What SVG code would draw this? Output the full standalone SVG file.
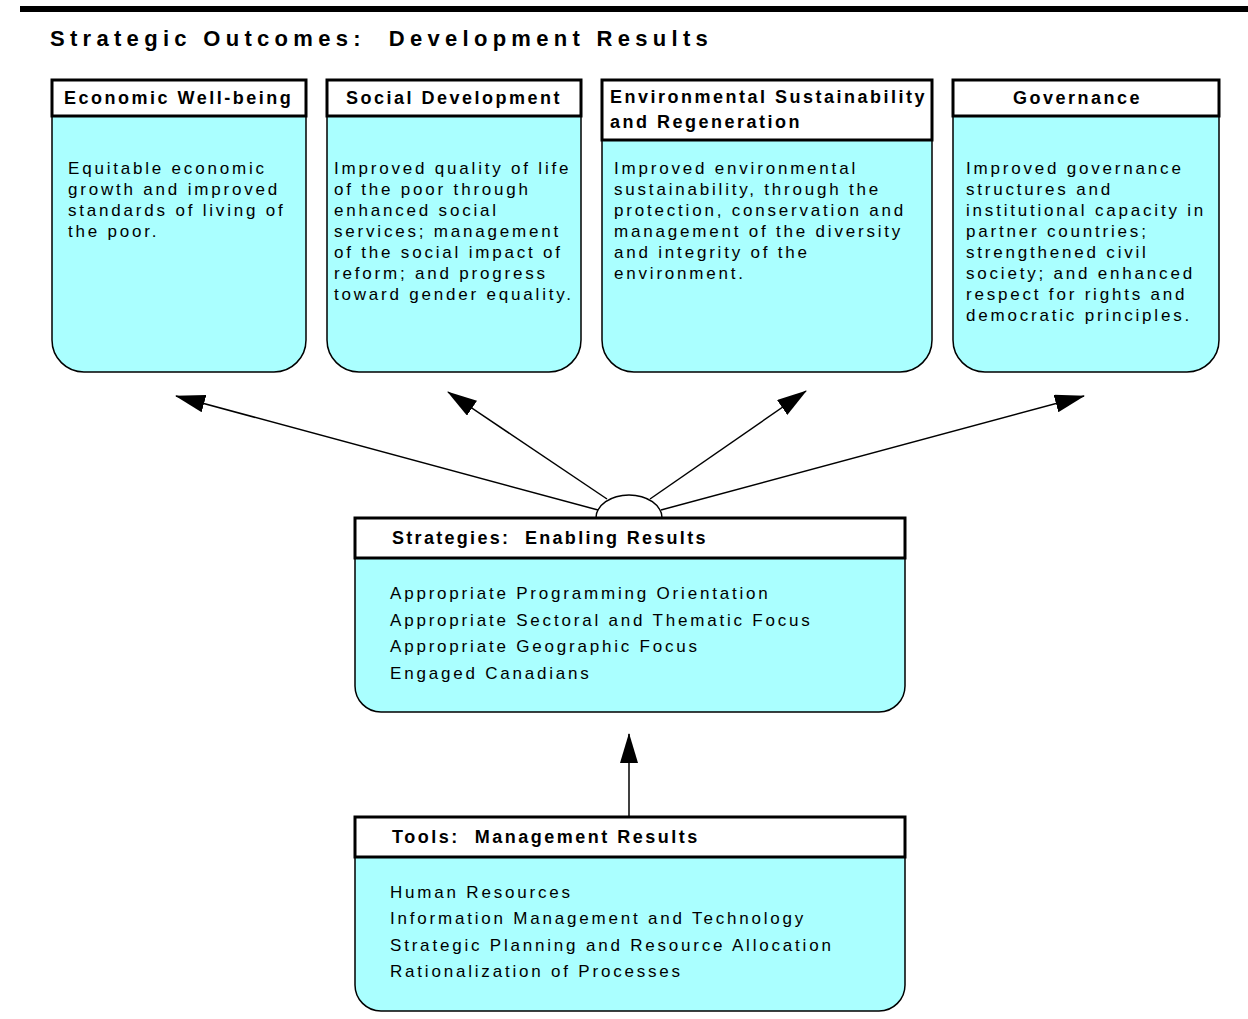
<svg xmlns="http://www.w3.org/2000/svg" width="1248" height="1019" viewBox="0 0 1248 1019">
<style>
text{white-space:pre}
.hdr{fill:#ffffff;stroke:#000;stroke-width:3}
.body{fill:#aaffff;stroke:#000;stroke-width:1.5}
.ht{font-family:"Liberation Sans",Arial,sans-serif;font-weight:bold;font-size:18px;letter-spacing:2.5px;fill:#000}
.bt{font-family:"Liberation Sans",Arial,sans-serif;font-size:17px;letter-spacing:2.8px;fill:#000}
.title{font-family:"Liberation Sans",Arial,sans-serif;font-weight:bold;font-size:22px;letter-spacing:5.3px;fill:#000}
.conn{stroke:#000;stroke-width:1.5;fill:none}
</style>
<defs>
<marker id="arr" viewBox="0 0 30 18" refX="29" refY="9" markerWidth="30" markerHeight="18" markerUnits="userSpaceOnUse" orient="auto">
<path d="M0,0 L30,9 L0,18 z" fill="#000"/>
</marker>
</defs>
<rect x="20" y="6" width="1228" height="6" fill="#000"/>
<text class="title" x="50" y="46" xml:space="preserve">Strategic Outcomes:  Development Results</text>

<g id="economic">
<path class="body" d="M52,116 V340 A32,32 0 0 0 84,372 H274 A32,32 0 0 0 306,340 V116 Z"/>
<rect class="hdr" x="52" y="80" width="254" height="36"/>
<text class="ht" x="64" y="104">Economic Well-being</text>
<text class="bt" x="68" y="174">Equitable economic</text>
<text class="bt" x="68" y="195">growth and improved</text>
<text class="bt" x="68" y="216">standards of living of</text>
<text class="bt" x="68" y="237">the poor.</text>
</g>

<g id="social">
<path class="body" d="M327,116 V340 A32,32 0 0 0 359,372 H549 A32,32 0 0 0 581,340 V116 Z"/>
<rect class="hdr" x="327" y="80" width="254" height="36"/>
<text class="ht" x="346" y="104">Social Development</text>
<text class="bt" x="334" y="174">Improved quality of life</text>
<text class="bt" x="334" y="195">of the poor through</text>
<text class="bt" x="334" y="216">enhanced social</text>
<text class="bt" x="334" y="237">services; management</text>
<text class="bt" x="334" y="258">of the social impact of</text>
<text class="bt" x="334" y="279">reform; and progress</text>
<text class="bt" x="334" y="300">toward gender equality.</text>
</g>

<g id="environment">
<path class="body" d="M602,140 V340 A32,32 0 0 0 634,372 H900 A32,32 0 0 0 932,340 V140 Z"/>
<rect class="hdr" x="602" y="80" width="330" height="60"/>
<text class="ht" x="610" y="103">Environmental Sustainability</text>
<text class="ht" x="610" y="128">and Regeneration</text>
<text class="bt" x="614" y="174">Improved environmental</text>
<text class="bt" x="614" y="195">sustainability, through the</text>
<text class="bt" x="614" y="216">protection, conservation and</text>
<text class="bt" x="614" y="237">management of the diversity</text>
<text class="bt" x="614" y="258">and integrity of the</text>
<text class="bt" x="614" y="279">environment.</text>
</g>

<g id="governance">
<path class="body" d="M953,116 V340 A32,32 0 0 0 985,372 H1187 A32,32 0 0 0 1219,340 V116 Z"/>
<rect class="hdr" x="953" y="80" width="266" height="36"/>
<text class="ht" x="1013" y="104">Governance</text>
<text class="bt" x="966" y="174">Improved governance</text>
<text class="bt" x="966" y="195">structures and</text>
<text class="bt" x="966" y="216">institutional capacity in</text>
<text class="bt" x="966" y="237">partner countries;</text>
<text class="bt" x="966" y="258">strengthened civil</text>
<text class="bt" x="966" y="279">society; and enhanced</text>
<text class="bt" x="966" y="300">respect for rights and</text>
<text class="bt" x="966" y="321">democratic principles.</text>
</g>

<g id="strategies">
<path class="body" d="M355,558 V686 A26,26 0 0 0 381,712 H879 A26,26 0 0 0 905,686 V558 Z"/>
<rect class="hdr" x="355" y="518" width="550" height="40"/>
<text class="ht" x="392" y="544" xml:space="preserve" style="letter-spacing:2.3px">Strategies:  Enabling Results</text>
<text class="bt" x="390" y="599">Appropriate Programming Orientation</text>
<text class="bt" x="390" y="626">Appropriate Sectoral and Thematic Focus</text>
<text class="bt" x="390" y="652">Appropriate Geographic Focus</text>
<text class="bt" x="390" y="679">Engaged Canadians</text>
</g>

<g id="tools">
<path class="body" d="M355,857 V985 A26,26 0 0 0 381,1011 H879 A26,26 0 0 0 905,985 V857 Z"/>
<rect class="hdr" x="355" y="817" width="550" height="40"/>
<text class="ht" x="392" y="843" xml:space="preserve">Tools:  Management Results</text>
<text class="bt" x="390" y="898">Human Resources</text>
<text class="bt" x="390" y="924">Information Management and Technology</text>
<text class="bt" x="390" y="951">Strategic Planning and Resource Allocation</text>
<text class="bt" x="390" y="977">Rationalization of Processes</text>
</g>

<g id="connectors">
<path class="conn" d="M596,518 A33,23 0 0 1 662,518"/>
<line class="conn" x1="598" y1="510" x2="176" y2="396" marker-end="url(#arr)"/>
<line class="conn" x1="607" y1="499" x2="448" y2="392" marker-end="url(#arr)"/>
<line class="conn" x1="650" y1="499" x2="806" y2="391" marker-end="url(#arr)"/>
<line class="conn" x1="661" y1="510" x2="1084" y2="396" marker-end="url(#arr)"/>
<line class="conn" x1="629" y1="817" x2="629" y2="734" marker-end="url(#arr)"/>
</g>
</svg>
